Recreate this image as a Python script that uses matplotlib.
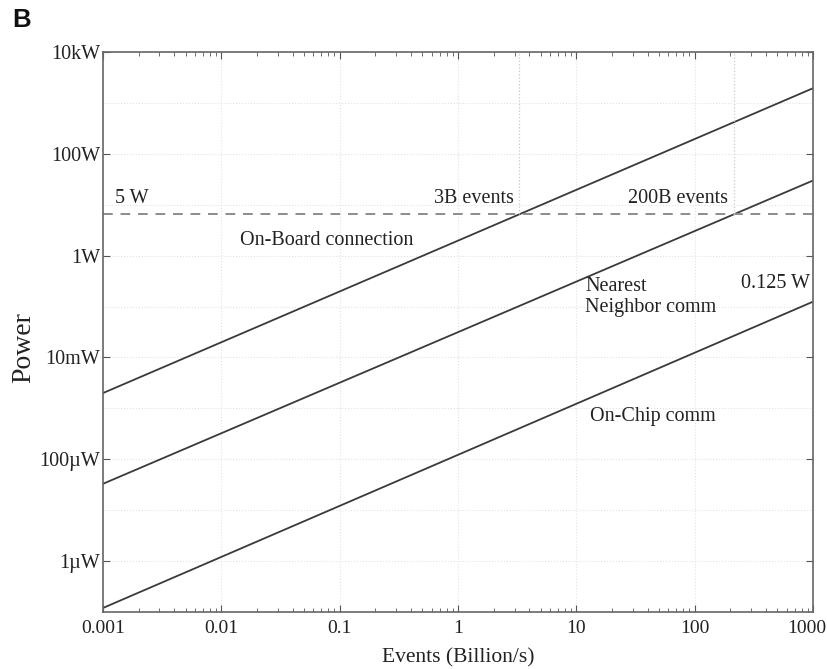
import matplotlib
matplotlib.use("Agg")
import matplotlib.pyplot as plt
import matplotlib.transforms as mtransforms
from matplotlib.ticker import LogLocator, FixedLocator, NullFormatter

plt.rcParams['font.family'] = ['Liberation Serif', 'DejaVu Serif']

# Data (events in billion/s, power in W)
x_ends = [0.001, 1000]
on_board = [2.0e-3, 1.95e3]
nearest = [3.3e-5, 30.0]
on_chip = [1.2e-7, 0.125]
threshold_w = 6.5
cross_x = [3.3, 215]

x_ticks = [0.001, 0.01, 0.1, 1, 10, 100, 1000]
x_ticklabels = ["0.001", "0.01", "0.1", "1", "10", "100", "1000"]
y_ticks = [1e-6, 1e-4, 1e-2, 1, 1e2, 1e4]
y_ticklabels = ["1µW", "100µW", "10mW", "1W", "100W", "10kW"]

fig = plt.figure(figsize=(8.28, 6.69), dpi=100)
ax = fig.add_axes([0.1244, 0.0852, 0.8576, 0.8370])
ax.set_xscale('log')
ax.set_yscale('log')
ax.set_xlim(1e-3, 1e3)
ax.set_ylim(1e-7, 1e4)

# gridlines at every decade
for d in range(-3, 4):
    ax.axvline(10.0**d, color='#e2e2e2', lw=0.8, ls=':', zorder=0)
for d in range(-7, 5):
    ax.axhline(10.0**d, color='#e2e2e2', lw=0.8, ls=':', zorder=0)

lc = '#3a3a3a'
ax.plot(x_ends, on_board, color=lc, lw=1.3)
ax.plot(x_ends, nearest, color=lc, lw=1.3)
ax.plot(x_ends, on_chip, color=lc, lw=1.3)
ax.axhline(threshold_w, color='#8c8c8c', lw=1.4, ls=(0, (5, 4)))
ax.vlines(cross_x, threshold_w, 1e4, colors='#c8c8c8', lw=0.9, ls=':')

ax.xaxis.set_major_locator(FixedLocator(x_ticks))
ax.set_xticklabels(x_ticklabels)
ax.xaxis.set_minor_locator(LogLocator(base=10, subs=range(2, 10), numticks=20))
ax.xaxis.set_minor_formatter(NullFormatter())
ax.yaxis.set_major_locator(FixedLocator(y_ticks))
ax.set_yticklabels(y_ticklabels)
ax.yaxis.set_minor_locator(FixedLocator([]))

ax.tick_params(which='both', direction='in', top=True, right=True, colors='#555555',
               labelcolor='#222222', labelsize=14.5)
ax.tick_params(axis='x', which='major', labelsize=14)
ax.tick_params(which='major', length=5, width=0.8)
ax.tick_params(which='minor', length=3, width=0.6)
ax.tick_params(axis='x', which='major', pad=6)
ax.tick_params(axis='y', which='major', pad=2)
for s in ax.spines.values():
    s.set_color('#666666')
    s.set_linewidth(1.2)

# nudge the last x tick label so it stays inside the figure
last = ax.get_xticklabels()[-1]
last.set_transform(last.get_transform() +
                   mtransforms.ScaledTranslation(-6 / 100, 0, fig.dpi_scale_trans))

ax.set_xlabel("Events (Billion/s)", fontsize=15.5, color='#222222')
ax.set_ylabel("Power", fontsize=20, color='#222222')
ax.xaxis.set_label_coords(0.5, -0.064)
ax.yaxis.set_label_coords(-0.094, 0.473)

tc = '#222222'
fs = 14.5
ax.text(1.26e-3, 13.5, "5 W", fontsize=fs, color=tc, va='center', ha='left')
ax.text(2.95, 13.5, "3B events", fontsize=fs, color=tc, va='center', ha='right')
ax.text(190, 13.5, "200B events", fontsize=fs, color=tc, va='center', ha='right')
ax.text(0.0144, 2.0, "On-Board connection", fontsize=fs, color=tc, va='center', ha='left')
ax.text(11.9, 0.155, "Nearest\nNeighbor comm", fontsize=fs, color=tc, va='center', ha='left',
        linespacing=1.1)
ax.text(950, 0.29, "0.125 W", fontsize=fs, color=tc, va='center', ha='right')
ax.text(13.1, 6.8e-4, "On-Chip comm", fontsize=fs, color=tc, va='center', ha='left')

fig.text(0.015, 0.970, "B", fontsize=18.5, fontweight='bold', family='Liberation Sans',
         color='#111111', va='center', ha='left')

fig.savefig("out.png", dpi=100)
